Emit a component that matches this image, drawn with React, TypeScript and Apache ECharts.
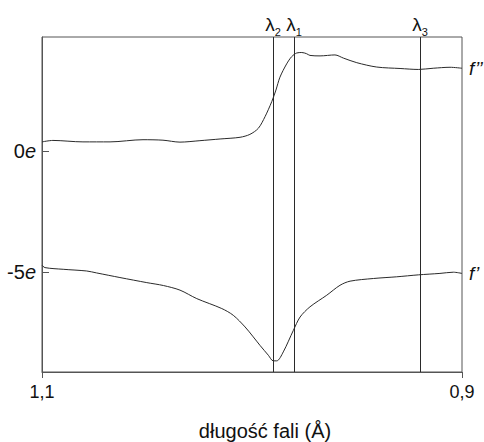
import React, { useEffect, useRef } from "react";
import * as echarts from "echarts";

// f'' curve (upper)
const fppWavelengths = [1.1, 1.0948, 1.0805, 1.0676, 1.0519, 1.0424, 1.0343, 1.0248, 1.0152, 1.0057, 1.001, 0.997, 0.9938, 0.9906, 0.9886, 0.9867, 0.9835, 0.9811, 0.9787, 0.9763, 0.974, 0.9724, 0.9676, 0.9605, 0.9565, 0.9501, 0.9406, 0.9295, 0.9208, 0.9137, 0.9057, 0.9];
const fppValues = [0.38, 0.44, 0.38, 0.38, 0.47, 0.45, 0.37, 0.43, 0.5, 0.57, 0.69, 0.94, 1.42, 2.04, 2.52, 3.05, 3.6, 3.9, 4.05, 4.07, 4.02, 3.95, 3.93, 3.97, 3.84, 3.65, 3.47, 3.41, 3.37, 3.42, 3.46, 3.42];

// f' curve (lower)
const fpWavelengths = [1.1, 1.0986, 1.0899, 1.0787, 1.074, 1.0629, 1.0501, 1.0422, 1.0343, 1.0263, 1.0144, 1.0089, 1.0033, 0.9994, 0.9962, 0.9922, 0.9899, 0.9882, 0.9851, 0.9803, 0.9771, 0.9724, 0.9644, 0.9581, 0.9533, 0.9422, 0.9311, 0.9208, 0.9105, 0.9041, 0.9];
const fpValues = [-4.71, -4.81, -4.88, -4.95, -5.03, -5.22, -5.43, -5.55, -5.74, -6.09, -6.5, -6.78, -7.26, -7.67, -8.02, -8.43, -8.66, -8.66, -8.29, -7.4, -6.85, -6.43, -5.95, -5.54, -5.37, -5.26, -5.19, -5.11, -5.05, -5.0, -5.05];

// marked wavelengths λ1, λ2, λ3
const lambdaValues = [0.9797, 0.9889, 0.9208];
const lambdaIndices = ["1", "2", "3"];

const xTickValues = [1.1, 0.9];
const xTickLabels = ["1,1", "0,9"];
const yTickValues = [0, -5];
const yTickLabels = ["0", "-5"];

const xAxisTitle = "długość fali (Å)";
const seriesNames = ["f’’", "f’"];

const FONT = "Liberation Sans, Arial, sans-serif";
const INK = "#2a2a2a";
const BOX = "#555555";

export default function App() {
  const ref = useRef<HTMLDivElement>(null);

  useEffect(() => {
    if (!ref.current) return;
    const chart = echarts.init(ref.current, null, { renderer: "svg" });

    const fppData = fppWavelengths.map((w, i) => [w, fppValues[i]]);
    const fpData = fpWavelengths.map((w, i) => [w, fpValues[i]]);

    const endLabel = (text: string) => ({
      show: true,
      formatter: text,
      fontSize: 19,
      fontStyle: "italic",
      fontFamily: FONT,
      color: "#111",
      align: "left",
      distance: -7,
    });

    const option: any = {
      animation: false,
      backgroundColor: "#ffffff",
      textStyle: { fontFamily: FONT },
      grid: {
        left: 42,
        right: 22,
        top: 37,
        bottom: 70,
        show: true,
        borderColor: BOX,
        borderWidth: 1,
      },
      xAxis: {
        type: "value",
        inverse: true,
        min: 0.9,
        max: 1.1,
        splitLine: { show: false },
        axisLine: { show: true, onZero: false, lineStyle: { color: BOX, width: 1 } },
        axisTick: {
          show: true,
          customValues: xTickValues,
          length: 6,
          lineStyle: { color: BOX },
        },
        axisLabel: {
          customValues: xTickValues,
          formatter: (v: number) => {
            const idx = xTickValues.findIndex((t) => Math.abs(t - v) < 1e-9);
            return idx >= 0 ? xTickLabels[idx] : "";
          },
          fontSize: 18,
          color: "#111",
          margin: 11,
          fontFamily: FONT,
        },
      },
      yAxis: {
        type: "value",
        min: -9.12,
        max: 4.71,
        splitLine: { show: false },
        axisLine: { show: true, onZero: false, lineStyle: { color: BOX, width: 1 } },
        axisTick: {
          show: true,
          inside: true,
          customValues: yTickValues,
          length: 7,
          lineStyle: { color: BOX },
        },
        axisLabel: {
          customValues: yTickValues,
          formatter: (v: number) => {
            const idx = yTickValues.findIndex((t) => Math.abs(t - v) < 1e-9);
            return idx >= 0 ? `{n|${yTickLabels[idx]}}{e|e}` : "";
          },
          margin: 6,
          rich: {
            n: { fontSize: 20, color: "#111", fontFamily: FONT },
            e: { fontSize: 20, color: "#111", fontStyle: "italic", fontFamily: FONT },
          },
        },
      },
      graphic: [
        {
          type: "text",
          x: 265,
          y: 421,
          style: {
            text: xAxisTitle,
            fontSize: 20,
            fontFamily: FONT,
            fill: "#111",
            textAlign: "center",
            textVerticalAlign: "top",
          },
        },
      ],
      series: [
        {
          type: "line",
          name: seriesNames[0],
          data: fppData,
          smooth: 0.3,
          showSymbol: false,
          symbol: "none",
          lineStyle: { color: INK, width: 1 },
          endLabel: endLabel(seriesNames[0]),
          markLine: {
            silent: true,
            symbol: ["none", "none"],
            animation: false,
            lineStyle: { color: INK, width: 1, type: "solid" },
            label: {
              show: true,
              position: "end",
              distance: 3,
              formatter: (p: any) => `{l|λ}{s|${lambdaIndices[p.dataIndex] ?? ""}}`,
              rich: {
                l: { fontSize: 19, color: "#111", fontFamily: FONT, lineHeight: 20 },
                s: { fontSize: 11, color: "#111", fontFamily: FONT, lineHeight: 10, verticalAlign: "bottom", padding: [0, 0, -3, 0] },
              },
            },
            data: lambdaValues.map((v) => ({ xAxis: v })),
          },
        },
        {
          type: "line",
          name: seriesNames[1],
          data: fpData,
          smooth: 0.3,
          showSymbol: false,
          symbol: "none",
          lineStyle: { color: INK, width: 1 },
          endLabel: endLabel(seriesNames[1]),
        },
      ],
    };

    chart.setOption(option);
    return () => chart.dispose();
  }, []);

  return (
    <div
      ref={ref}
      style={{ position: "fixed", left: 0, top: 0, width: 484, height: 442, background: "#fff" }}
    />
  );
}
